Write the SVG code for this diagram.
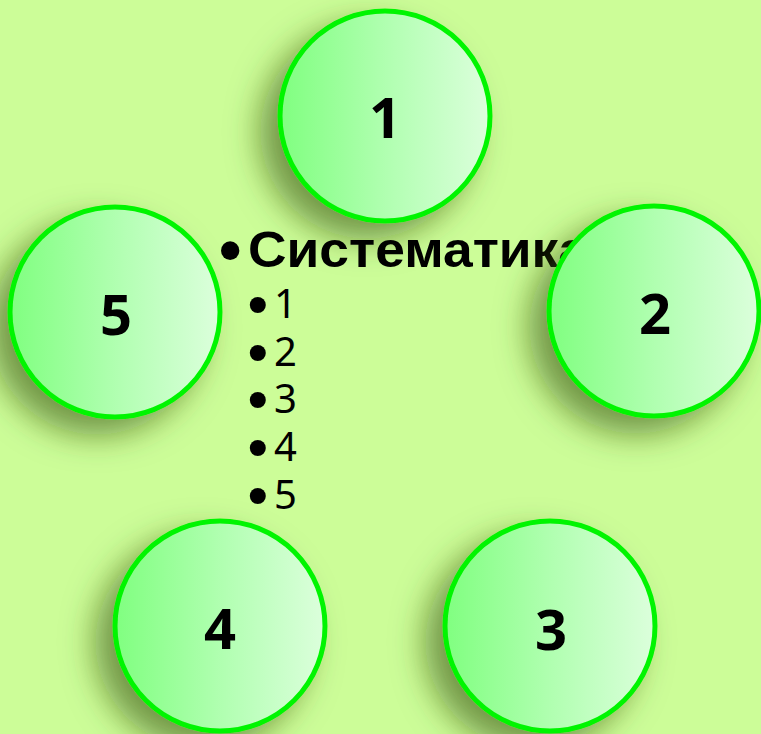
<svg xmlns="http://www.w3.org/2000/svg" width="761" height="734" viewBox="0 0 761 734">
  <defs>
    <linearGradient id="fillGrad" x1="0" y1="0" x2="1" y2="0">
      <stop offset="0" stop-color="#80ff80"/>
      <stop offset="0.5" stop-color="#b0ffb0"/>
      <stop offset="1" stop-color="#dcffdc"/>
    </linearGradient>
    <filter id="shadow" x="-50%" y="-50%" width="200%" height="200%">
      <feDropShadow dx="-18" dy="16" stdDeviation="16" flood-color="#3a5a0e" flood-opacity="0.62"/>
    </filter>
  </defs>
  <style>
    .node circle { fill: url(#fillGrad); stroke: #00f500; stroke-width: 5; }
    .num { font-family: "Open Sans", "Liberation Sans", sans-serif; font-weight: bold; font-size: 56px; fill: #000; text-anchor: middle; }
    .head { font-family: "Liberation Sans", Arial, sans-serif; font-weight: bold; font-size: 50px; fill: #000; }
    .sub { font-family: "Noto Sans", "Liberation Sans", sans-serif; font-size: 40px; fill: #000; }
    .bul { font-family: "Liberation Sans", sans-serif; font-weight: bold; font-size: 56px; }
  </style>
  <rect width="761" height="734" fill="#ccfd98"/>
  <g id="connectors"/>
  <g id="node1" class="node" filter="url(#shadow)">
    <circle cx="385" cy="116" r="105"/>
    <text class="num" x="385" y="138">1</text>
  </g>
  <g id="node5" class="node" filter="url(#shadow)">
    <circle cx="115" cy="312" r="105"/>
    <text class="num" x="116" y="335">5</text>
  </g>
  <g id="node4" class="node" filter="url(#shadow)">
    <circle cx="220" cy="626" r="105"/>
    <text class="num" x="220" y="649">4</text>
  </g>
  <g id="node3" class="node" filter="url(#shadow)">
    <circle cx="550" cy="626" r="105"/>
    <text class="num" x="551" y="650">3</text>
  </g>
  <g id="list">
    <text class="head" x="219" y="267"><tspan font-size="64" dy="5">•</tspan><tspan x="248" dy="-5" textLength="340" lengthAdjust="spacingAndGlyphs">Систематика</tspan></text>
    <text class="sub" x="248" y="318"><tspan class="bul" dy="5">•</tspan><tspan x="274" dy="-5">1</tspan></text>
    <text class="sub" x="248" y="366"><tspan class="bul" dy="5">•</tspan><tspan x="274" dy="-5">2</tspan></text>
    <text class="sub" x="248" y="413"><tspan class="bul" dy="5">•</tspan><tspan x="274" dy="-5">3</tspan></text>
    <text class="sub" x="248" y="461"><tspan class="bul" dy="5">•</tspan><tspan x="274" dy="-5">4</tspan></text>
    <text class="sub" x="248" y="509"><tspan class="bul" dy="5">•</tspan><tspan x="274" dy="-5">5</tspan></text>
  </g>
  <g id="node2" class="node" filter="url(#shadow)">
    <circle cx="654" cy="311" r="105"/>
    <text class="num" x="655" y="334">2</text>
  </g>
</svg>
